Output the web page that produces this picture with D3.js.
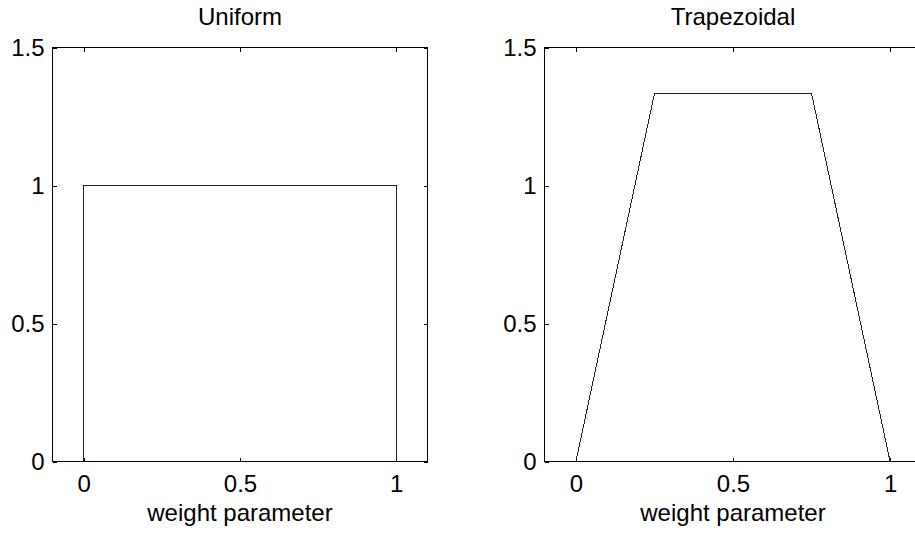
<!DOCTYPE html>
<html>
<head>
<meta charset="utf-8">
<script src="https://cdn.jsdelivr.net/npm/d3@7"></script>
<style>
  html, body { margin: 0; padding: 0; background: #fff; }
  svg { display: block; }
  text { font-family: "Liberation Sans", Arial, Helvetica, sans-serif; fill: #000; }
</style>
</head>
<body>
<svg id="chart" width="915" height="533"></svg>
<script>
// Probability density of the weight parameter under two priors
const panelTitles = ["Uniform", "Trapezoidal"];
const xLabel = "weight parameter";

const uniformX = [0, 0, 1, 1];
const uniformY = [0, 1, 1, 0];

const trapezoidX = [0, 0.25, 0.75, 1];
const trapezoidY = [0, 4 / 3, 4 / 3, 0];

const xTickValues = [0, 0.5, 1];
const xTickLabels = ["0", "0.5", "1"];
const yTickValues = [0, 0.5, 1, 1.5];
const yTickLabels = ["0", "0.5", "1", "1.5"];

const xDomain = [-0.1, 1.1];
const yDomain = [0, 1.5];

const svg = d3.select("#chart");
const fontSize = 24;
const tickLen = 4;

const panels = [
  { title: panelTitles[0], xs: uniformX, ys: uniformY, left: 52.5, right: 427.5 },
  { title: panelTitles[1], xs: trapezoidX, ys: trapezoidY, left: 544.5, right: 921.5 }
];
const plotTop = 47.5, plotBottom = 461.5;

panels.forEach(p => {
  const x = d3.scaleLinear().domain(xDomain).range([p.left, p.right]);
  const y = d3.scaleLinear().domain(yDomain).range([plotBottom, plotTop]);
  const g = svg.append("g");

  // density curve
  const line = d3.line().x((d, i) => x(p.xs[i])).y((d, i) => y(p.ys[i]));
  g.append("path")
    .datum(p.xs)
    .attr("d", line)
    .attr("fill", "none")
    .attr("stroke", "#222")
    .attr("stroke-width", 1)
    .attr("shape-rendering", "crispEdges");

  // axes with inward ticks on all four sides
  const styleAxis = sel => {
    sel.attr("font-size", fontSize).attr("font-family", null);
    sel.selectAll("line").attr("stroke", "#000").attr("shape-rendering", "crispEdges");
    sel.selectAll(".domain").remove();
    sel.selectAll("text").attr("fill", "#000");
  };

  g.append("g")
    .attr("transform", `translate(0,${plotBottom})`)
    .call(d3.axisBottom(x).tickValues(xTickValues)
      .tickFormat((d, i) => xTickLabels[i]).tickSizeInner(-tickLen).tickSizeOuter(0).tickPadding(13))
    .call(styleAxis);

  g.append("g")
    .attr("transform", `translate(0,${plotTop})`)
    .call(d3.axisTop(x).tickValues(xTickValues).tickFormat("").tickSizeInner(-tickLen).tickSizeOuter(0))
    .call(styleAxis);

  g.append("g")
    .attr("transform", `translate(${p.left},0)`)
    .call(d3.axisLeft(y).tickValues(yTickValues)
      .tickFormat((d, i) => yTickLabels[i]).tickSizeInner(-tickLen).tickSizeOuter(0).tickPadding(8))
    .call(styleAxis);

  g.append("g")
    .attr("transform", `translate(${p.right},0)`)
    .call(d3.axisRight(y).tickValues(yTickValues).tickFormat("").tickSizeInner(-tickLen).tickSizeOuter(0))
    .call(styleAxis);

  // axes box
  g.append("rect")
    .attr("x", p.left).attr("y", plotTop)
    .attr("width", p.right - p.left).attr("height", plotBottom - plotTop)
    .attr("fill", "none").attr("stroke", "#000").attr("stroke-width", 1)
    .attr("shape-rendering", "crispEdges");

  const cx = (p.left + p.right) / 2;
  g.append("text")
    .attr("x", cx).attr("y", 25)
    .attr("text-anchor", "middle").attr("font-size", fontSize)
    .text(p.title);

  g.append("text")
    .attr("x", cx).attr("y", 521)
    .attr("text-anchor", "middle").attr("font-size", fontSize)
    .text(xLabel);
});
</script>
</body>
</html>
